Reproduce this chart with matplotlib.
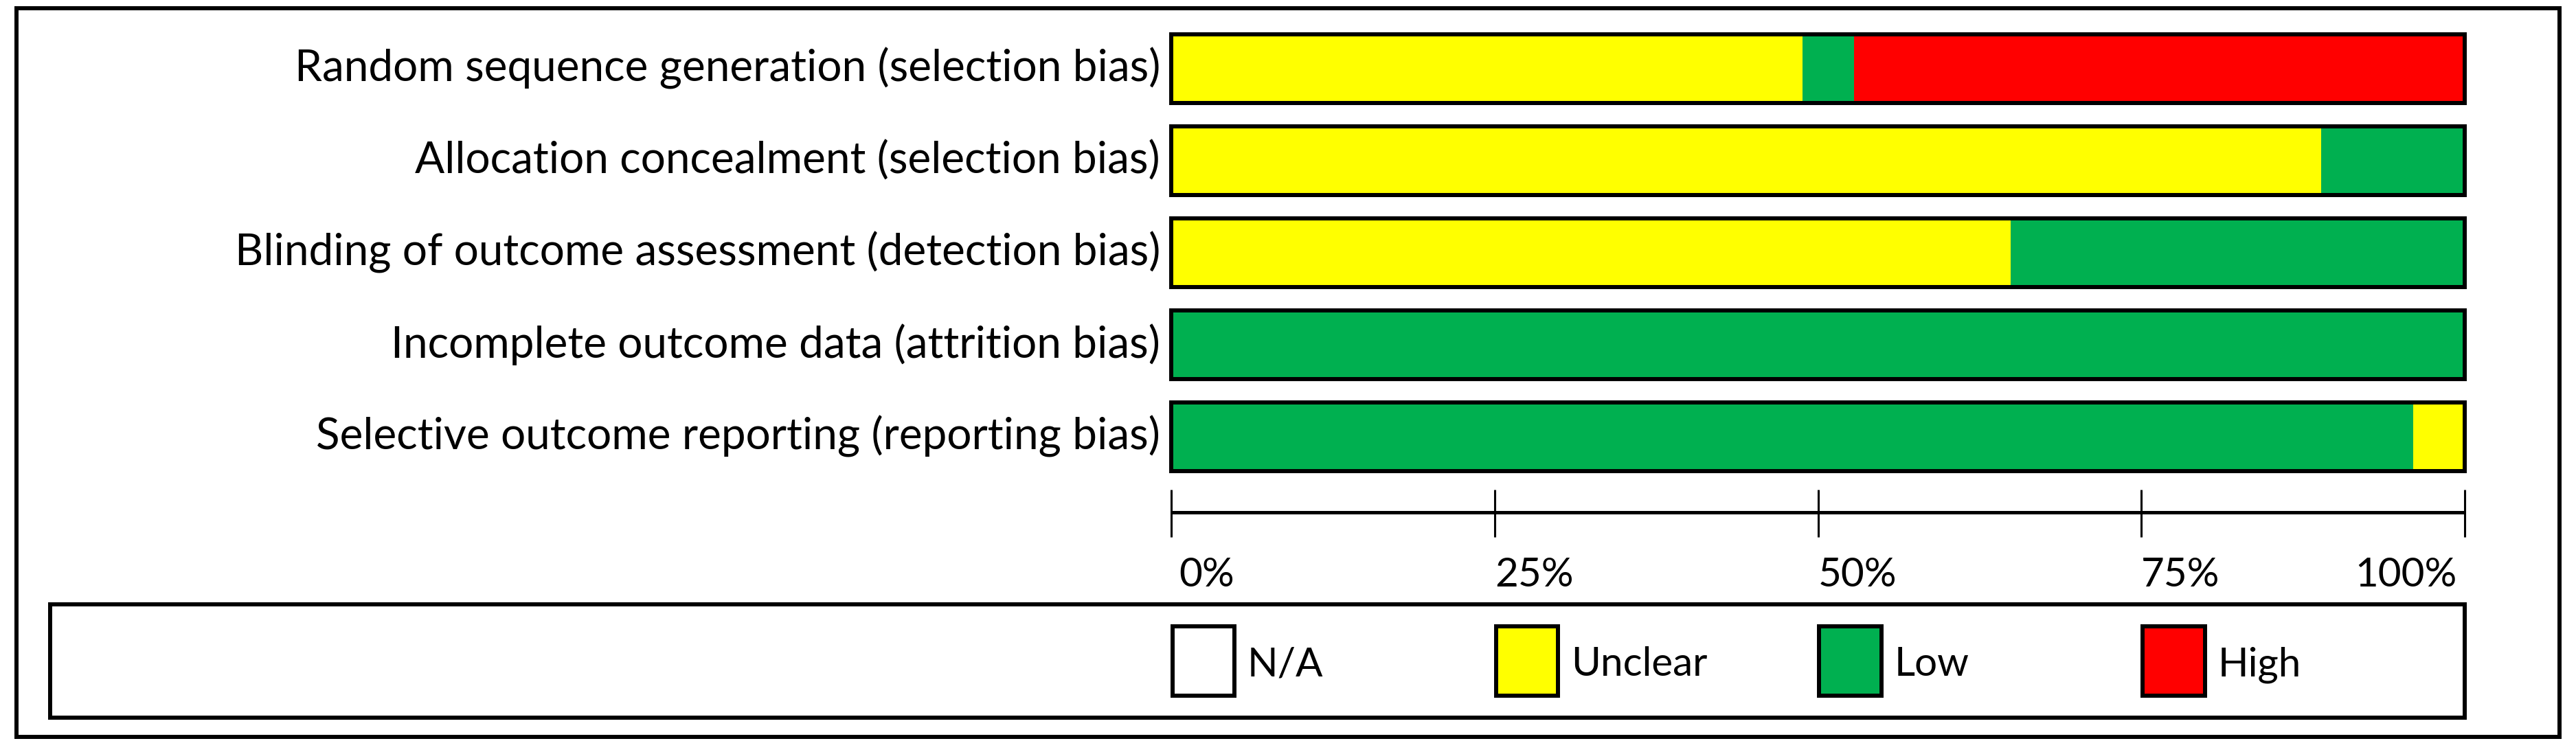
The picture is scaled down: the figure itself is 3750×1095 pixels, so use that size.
import matplotlib
matplotlib.use("Agg")
import matplotlib.pyplot as plt
from matplotlib.patches import Rectangle

# ---------------- data ----------------
categories = [
    "Random sequence generation (selection bias)",
    "Allocation concealment (selection bias)",
    "Blinding of outcome assessment (detection bias)",
    "Incomplete outcome data (attrition bias)",
    "Selective outcome reporting (reporting bias)",
]
unclear = [48.8, 88.9, 64.9, 0.0, 4.0]
low = [4.0, 11.1, 35.1, 100.0, 96.0]
high = [47.2, 0.0, 0.0, 0.0, 0.0]
row_order = [
    ["Unclear", "Low", "High"],
    ["Unclear", "Low"],
    ["Unclear", "Low"],
    ["Low"],
    ["Low", "Unclear"],
]
tick_values = [0, 25, 50, 75, 100]
tick_labels = ["0%", "25%", "50%", "75%", "100%"]
legend_names = ["N/A", "Unclear", "Low", "High"]

values = {"Unclear": unclear, "Low": low, "High": high}
colors = {"N/A": "#FFFFFF", "Unclear": "#FFFF00", "Low": "#00B050", "High": "#FF0000"}

# ---------------- layout ----------------
W, H = 3750, 1095
FONT = ["Lato", "DejaVu Sans"]
FS_CAT = 46
FS = 42
LW = 4.3

fig = plt.figure(figsize=(W / 100, H / 100), dpi=100)
ax = fig.add_axes([0, 0, 1, 1])
px_x0, px_x100 = 1705, 3588
sx = (px_x100 - px_x0) / 100.0
ax.set_xlim(-px_x0 / sx, (W - px_x0) / sx)
row0, rstep = 99.8, 134.0
ax.set_ylim((H - row0) / rstep, -row0 / rstep)
ax.axis("off")


def fy(py):
    return 1 - py / H


# outer frame
fig.patches.append(Rectangle((23.5 / W, fy(1073)), (3726 - 23.5) / W, (1073 - 12) / H,
                             transform=fig.transFigure, fill=False, edgecolor="black",
                             linewidth=LW, joinstyle="miter"))
# legend frame
fig.patches.append(Rectangle((73 / W, fy(1045)), (3588 - 73) / W, (1045 - 880) / H,
                             transform=fig.transFigure, fill=False, edgecolor="black",
                             linewidth=LW, joinstyle="miter"))

bar_h = 0.746
for i, cat in enumerate(categories):
    left = 0.0
    for name in row_order[i]:
        v = values[name][i]
        ax.barh(i, v, left=left, height=bar_h, color=colors[name], edgecolor="none")
        left += v
    ax.barh(i, 100, height=bar_h, fill=False, edgecolor="black", linewidth=LW)
    ax.text(-0.85, i, cat, ha="right", va="center", fontsize=FS_CAT, family=FONT)

# scale axis
y_axis = (746 - row0) / rstep
ax.plot([0, 100], [y_axis, y_axis], color="black", linewidth=3.6, solid_capstyle="butt")
ax.vlines(tick_values, (713 - row0) / rstep, (782 - row0) / rstep, color="black", linewidth=2.2)
y_lab = (838 - row0) / rstep
for t, lab in zip(tick_values, tick_labels):
    if t == 100:
        ax.text(t - 0.6, y_lab, lab, ha="right", va="center", fontsize=FS, family=FONT)
    else:
        ax.text(t + (0.6 if t == 0 else 0), y_lab, lab, ha="left", va="center",
                fontsize=FS, family=FONT)

# legend
sw_top = (912 - row0) / rstep
sw_h = (1013 - 912) / rstep
for j, name in enumerate(legend_names):
    ax.bar(j * 25 + 0.1, sw_h, width=4.8, bottom=sw_top, align="edge",
           color=colors[name], edgecolor="black", linewidth=LW)
    ax.text(j * 25 + 5.9, (968 - row0) / rstep, name, ha="left", va="center",
            fontsize=FS, family=FONT)

fig.savefig("out.png", dpi=100, facecolor="white")
